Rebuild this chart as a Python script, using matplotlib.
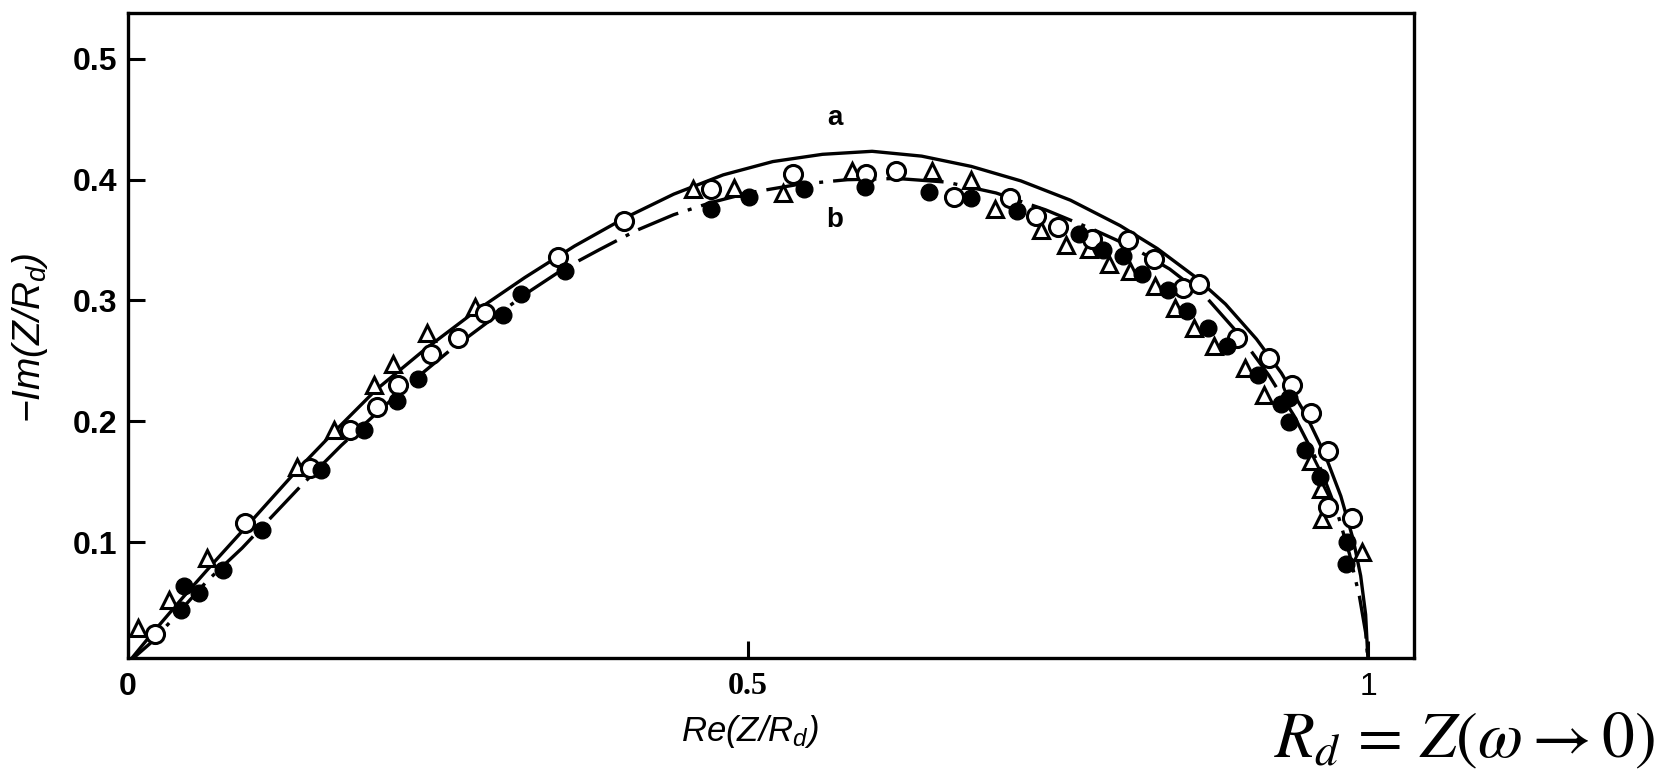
import matplotlib
matplotlib.use('Agg')
import matplotlib.pyplot as plt

plt.rcParams['font.family'] = 'Liberation Sans'
plt.rcParams['mathtext.fontset'] = 'custom'
plt.rcParams['mathtext.it'] = 'Liberation Sans:italic'
plt.rcParams['mathtext.rm'] = 'Liberation Sans:italic'
plt.rcParams['mathtext.sf'] = 'Liberation Sans:italic'

## curve a (solid)
a_x = [0.000, 0.020, 0.045, 0.070, 0.100, 0.135, 0.165, 0.200, 0.240, 0.280, 0.320,
       0.360, 0.400, 0.440, 0.480, 0.520, 0.560, 0.600, 0.640, 0.680, 0.720, 0.760,
       0.800, 0.830, 0.860, 0.885, 0.910, 0.930, 0.950, 0.965, 0.978, 0.988, 0.994,
       0.998, 1.000]
a_y = [0.000, 0.025, 0.055, 0.084, 0.118, 0.158, 0.190, 0.226, 0.260, 0.291, 0.319,
       0.345, 0.368, 0.388, 0.404, 0.415, 0.421, 0.4235, 0.4195, 0.411, 0.399, 0.383,
       0.362, 0.343, 0.320, 0.297, 0.268, 0.240, 0.205, 0.173, 0.138, 0.102, 0.072,
       0.040, 0.000]

## curve b (dash-dot)
b_x = [0.000, 0.020, 0.064, 0.092, 0.139, 0.172, 0.205, 0.234, 0.260, 0.290, 0.320,
       0.351, 0.380, 0.410, 0.440, 0.470, 0.500, 0.540, 0.580, 0.620, 0.660, 0.700,
       0.740, 0.780, 0.810, 0.840, 0.870, 0.895, 0.920, 0.940, 0.960, 0.975, 0.985,
       0.993, 0.998, 1.000]
b_y = [0.000, 0.018, 0.068, 0.095, 0.146, 0.180, 0.211, 0.237, 0.259, 0.282, 0.305,
       0.326, 0.342, 0.358, 0.371, 0.381, 0.389, 0.396, 0.400, 0.401, 0.398, 0.389,
       0.375, 0.358, 0.344, 0.326, 0.302, 0.273, 0.238, 0.205, 0.165, 0.125, 0.090,
       0.055, 0.025, 0.000]

## open triangles
tri_x = [0.008, 0.033, 0.064, 0.136, 0.166, 0.198, 0.214, 0.241, 0.280, 0.456, 0.489,
         0.528, 0.584, 0.648, 0.680, 0.699, 0.736, 0.756, 0.775, 0.791, 0.808, 0.828,
         0.844, 0.860, 0.876, 0.901, 0.916, 0.954, 0.962, 0.963, 0.995]
tri_y = [0.029, 0.052, 0.087, 0.162, 0.193, 0.230, 0.247, 0.273, 0.295, 0.392, 0.393,
         0.389, 0.407, 0.407, 0.400, 0.376, 0.358, 0.346, 0.343, 0.330, 0.324, 0.312,
         0.294, 0.277, 0.262, 0.244, 0.222, 0.167, 0.144, 0.119, 0.092]

## open circles
circ_x = [0.022, 0.094, 0.147, 0.179, 0.201, 0.218, 0.244, 0.266, 0.288, 0.347, 0.400,
          0.470, 0.536, 0.595, 0.619, 0.666, 0.711, 0.732, 0.750, 0.777, 0.806, 0.827,
          0.851, 0.864, 0.894, 0.920, 0.939, 0.954, 0.968, 0.968, 0.987]
circ_y = [0.024, 0.116, 0.161, 0.193, 0.212, 0.230, 0.256, 0.269, 0.290, 0.336, 0.366,
          0.392, 0.405, 0.405, 0.407, 0.386, 0.385, 0.370, 0.361, 0.351, 0.350, 0.334,
          0.310, 0.314, 0.269, 0.252, 0.230, 0.207, 0.175, 0.129, 0.120]

## filled circles
dot_x = [0.043, 0.045, 0.057, 0.077, 0.108, 0.156, 0.190, 0.217, 0.234, 0.302, 0.317,
         0.352, 0.470, 0.501, 0.545, 0.594, 0.646, 0.680, 0.717, 0.767, 0.786, 0.802,
         0.818, 0.839, 0.854, 0.871, 0.886, 0.911, 0.936, 0.930, 0.936, 0.949, 0.961,
         0.983, 0.982]
dot_y = [0.044, 0.064, 0.058, 0.077, 0.110, 0.160, 0.193, 0.217, 0.235, 0.288, 0.305,
         0.324, 0.376, 0.386, 0.392, 0.394, 0.390, 0.385, 0.374, 0.355, 0.342, 0.337,
         0.322, 0.309, 0.291, 0.277, 0.262, 0.238, 0.219, 0.214, 0.199, 0.176, 0.154,
         0.100, 0.082]

fig = plt.figure(figsize=(16.64, 7.78), dpi=100)
ax = fig.add_axes([0.07692, 0.15424, 0.77284, 0.82905])

ax.plot(a_x, a_y, color='k', lw=2.4, solid_capstyle='round', solid_joinstyle='round', zorder=2)
ax.plot(b_x, b_y, color='k', lw=2.4, dashes=(13, 3, 1.2, 3), zorder=2)

ax.plot(tri_x, tri_y, '^', ms=12, mfc='white', mec='k', mew=2.2, zorder=3)
ax.plot(circ_x, circ_y, 'o', ms=13, mfc='white', mec='k', mew=2.2, zorder=3)
ax.plot(dot_x, dot_y, 'o', ms=12, mfc='k', mec='k', zorder=4)

ax.text(0.570, 0.451, 'a', ha='center', va='center', fontsize=20, fontweight='bold',
        family='Liberation Sans')
ax.text(0.570, 0.3665, 'b', ha='center', va='center', fontsize=20, fontweight='bold',
        family='Liberation Sans')

ax.set_xlim(0, 1.037)
ax.set_ylim(0.004, 0.538)

ax.set_xticks([0, 0.5, 1])
ax.set_xticklabels(['0', '0.5', '1'])
ax.set_yticks([0.1, 0.2, 0.3, 0.4, 0.5])
ax.set_yticklabels(['0.1', '0.2', '0.3', '0.4', '0.5'])

ax.tick_params(axis='both', direction='in', length=12, width=2.2)
ax.tick_params(axis='x', pad=10, labelsize=23)
ax.tick_params(axis='y', pad=8, labelsize=23)
for lab in ax.get_yticklabels():
    lab.set_fontweight('bold')
xl = ax.get_xticklabels()
xl[0].set_fontweight('bold')
xl[1].set_fontweight('bold')
xl[1].set_fontfamily('Liberation Serif')
xl[2].set_fontweight('normal')

for sp in ax.spines.values():
    sp.set_linewidth(2.4)

fig.text(30 / 1664, 1 - 338 / 778, r'$-Im(Z/R_d)$', rotation=90, ha='center', va='center', fontsize=28)
fig.text(750 / 1664, 1 - 732 / 778, r'$Re(Z/R_d)$', ha='center', va='center', fontsize=25)
fig.text(1655 / 1664, 1 - 757 / 778, r'$R_d\,=\,Z(\omega \rightarrow 0)$', ha='right', va='baseline',
         fontsize=47, math_fontfamily='stix')

fig.savefig('out.png', dpi=100)
